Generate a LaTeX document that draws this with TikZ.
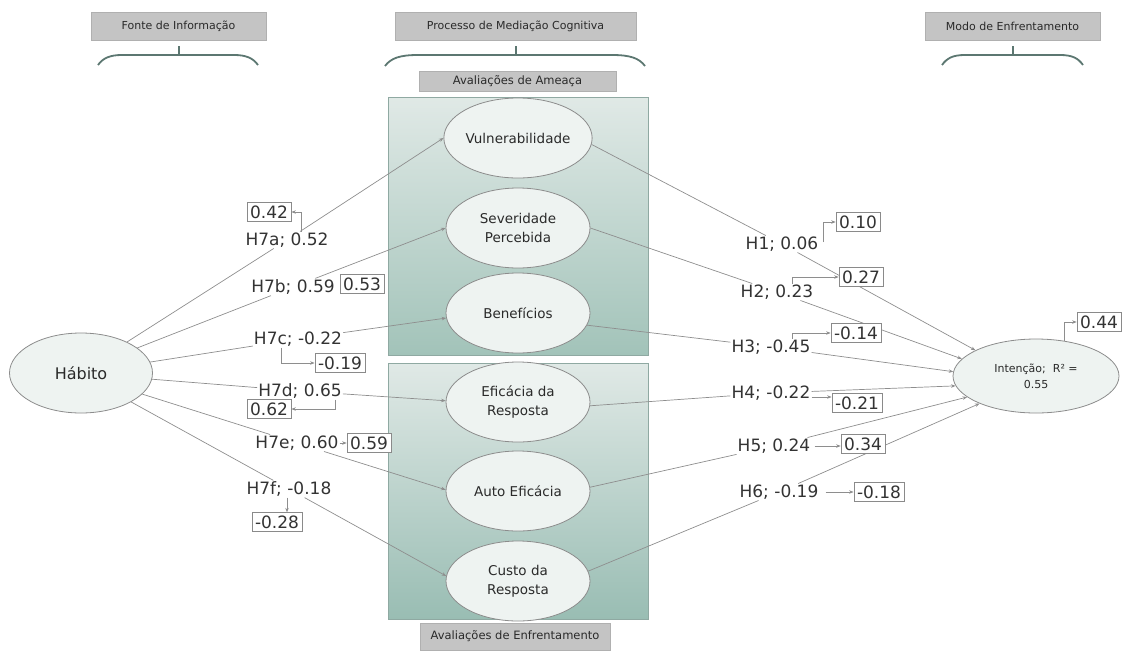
\documentclass[tikz,border=0pt]{standalone}
\usepackage{fontspec}
\setmainfont{DejaVu Sans}
\usetikzlibrary{arrows.meta,shapes.geometric}
\definecolor{lnc}{HTML}{8E8E8E}
\definecolor{labc}{HTML}{333333}
\definecolor{txtc}{HTML}{2A2A2A}
\definecolor{boxc}{HTML}{8A8A8A}
\definecolor{ellc}{HTML}{8C8C8C}
\definecolor{ellf}{HTML}{EEF3F1}
\definecolor{hdrd}{HTML}{B0B0B0}
\definecolor{hdrf}{HTML}{C4C4C4}
\definecolor{brcc}{HTML}{5C7771}
\definecolor{gbd}{HTML}{8FA9A2}
\definecolor{gtop}{HTML}{E0E9E6}
\definecolor{gbot}{HTML}{A2C3B9}
\definecolor{gbotb}{HTML}{99BDB3}
\begin{document}
\begin{tikzpicture}[x=1pt,y=-1pt,
 conn/.style={draw=lnc, line width=0.7pt},
 arr/.style={conn,-{Stealth[length=4.5pt,width=3.5pt]}},
 lab/.style={fill=white, inner sep=1pt, font=\fontsize{17}{20}\selectfont, text=labc},
 valbox/.style={draw=boxc, fill=white, line width=0.8pt, inner xsep=3pt, inner ysep=3pt, text height=12.5pt, text depth=0pt, font=\fontsize{17}{20}\selectfont, text=labc},
 cons/.style={ellipse, draw=ellc, fill=ellf, line width=0.8pt, minimum width=144pt, minimum height=80pt, inner sep=0pt, align=center, font=\fontsize{13.5}{19}\selectfont, text=txtc},
 hdr/.style={rectangle, draw=hdrd, fill=hdrf, inner sep=0pt, font=\fontsize{11}{13}\selectfont, text=txtc},
 brc/.style={draw=brcc, line width=1.8pt},
 gbox/.style={rectangle, draw=gbd, line width=0.8pt, top color=gtop, inner sep=0pt, minimum width=260pt}
]
\useasboundingbox (0,0) rectangle (1124,651);

% headers
\node[hdr, minimum width=175pt, minimum height=28pt] (hfonte) at (178.5,26) {Fonte de Informação};
\node[hdr, minimum width=241pt, minimum height=28pt] (hproc) at (515.5,26) {Processo de Mediação Cognitiva};
\node[hdr, minimum width=175pt, minimum height=28pt] (hmodo) at (1012.5,26) {Modo de Enfrentamento};

% braces
\draw[brc] (98,65) .. controls (103,58) and (110,55) .. (122,55) -- (234,55) .. controls (246,55) and (253,58) .. (258,65);
\draw[brc, line width=1.2pt] (179,46) -- (179,55);
\draw[brc] (385,66) .. controls (391,58) and (400,55) .. (418,55) -- (612,55) .. controls (630,55) and (639,58) .. (645,66);
\draw[brc, line width=1.2pt] (516,46) -- (516,55);
\draw[brc] (942,65) .. controls (947,58) and (953,55) .. (965,55) -- (1060,55) .. controls (1072,55) and (1078,58) .. (1083,65);
\draw[brc, line width=1.2pt] (1013,46) -- (1013,55);

% group boxes
\node[hdr, minimum width=197pt, minimum height=20pt, font=\fontsize{11.5}{13}\selectfont] (hame) at (517.5,81) {Avaliações de Ameaça};
\node[gbox, bottom color=gbot, minimum height=258pt] (gup) at (518,226) {};
\node[gbox, bottom color=gbotb, minimum height=256pt] (gdn) at (518,491) {};
\node[hdr, minimum width=190pt, minimum height=27pt, font=\fontsize{11.5}{13}\selectfont] (henf) at (515,636.5) {Avaliações de Enfrentamento};

% constructs
\node[cons] (vul) at (518,138) {Vulnerabilidade};
\node[cons] (sev) at (518,228) {Severidade\\Percebida};
\node[cons] (ben) at (518,313) {Benefícios};
\node[cons] (efi) at (518,402) {Eficácia da\\Resposta};
\node[cons] (aut) at (518,491) {Auto Eficácia};
\node[cons] (cus) at (518,581) {Custo da\\Resposta};
\node[cons, minimum width=143pt, font=\fontsize{16}{19}\selectfont] (hab) at (81,373) {Hábito};
\node[cons, minimum width=166pt, minimum height=74pt, font=\fontsize{11}{16}\selectfont] (int) at (1036,376) {Intenção;\ \ R² =\\0.55};

% path labels
\node[lab] (l7a) at (287,240) {H7a; 0.52};
\node[lab] (l7b) at (293,287) {H7b; 0.59};
\node[lab] (l7c) at (298,339) {H7c; -0.22};
\node[lab] (l7d) at (300,391) {H7d; 0.65};
\node[lab] (l7e) at (297,443) {H7e; 0.60};
\node[lab] (l7f) at (289,489) {H7f; -0.18};
\node[lab] (l1) at (782,244) {H1; 0.06};
\node[lab] (l2) at (777,292) {H2; 0.23};
\node[lab] (l3) at (771,347) {H3; -0.45};
\node[lab] (l4) at (771,393) {H4; -0.22};
\node[lab] (l5) at (774,446) {H5; 0.24};
\node[lab] (l6) at (779,492) {H6; -0.19};

% main paths
\draw[arr] (hab.34) -- (l7a) -- (vul.180);
\draw[arr] (hab.24) -- (l7b) -- (sev.180);
\draw[arr] (hab.9) -- (l7c) -- (ben.184);
\draw[arr] (hab.-5) -- (l7d) -- (efi.179);
\draw[arr] (hab.-19) -- (l7e) -- (aut.179);
\draw[arr] (hab.-30) -- (l7f) -- (cus.176);
\draw[arr] (vul.-5) -- (l1) -- (int.157);
\draw[arr] (sev.0) -- (l2) -- (int.167);
\draw[arr] (ben.-10) -- (l3) -- (int.177);
\draw[arr] (efi.-3) -- (l4) -- (int.187);
\draw[arr] (aut.3) -- (l5) -- (int.197);
\draw[arr] (cus.8) -- (l6) -- (int.206);

% value boxes
\node[valbox] (b7a) at (269,212) {0.42};
\node[valbox] (b7b) at (362,284) {0.53};
\node[valbox] (b7c) at (340,363) {-0.19};
\node[valbox] (b7d) at (269,409) {0.62};
\node[valbox] (b7e) at (369,443) {0.59};
\node[valbox] (b7f) at (277,522) {-0.28};
\node[valbox] (b1) at (858,222) {0.10};
\node[valbox] (b2) at (861,277) {0.27};
\node[valbox] (b3) at (856,333) {-0.14};
\node[valbox] (b4) at (857,403) {-0.21};
\node[valbox] (b5) at (863,444) {0.34};
\node[valbox] (b6) at (879,492) {-0.18};
\node[valbox] (b0) at (1099,322) {0.44};

% small arrows to value boxes
\draw[arr] ([xshift=14pt]l7a.north) |- (b7a.east);
\draw[arr] ([xshift=-17pt]l7c.south) |- (b7c.west);
\draw[arr] ([xshift=35pt]l7d.south) |- (b7d.east);
\draw[arr] (l7e.east) -- (b7e.west);
\draw[arr] ([xshift=-2pt]l7f.south) -- ([xshift=-2pt]l7f.south |- b7f.north);
\draw[arr] ([xshift=4pt,yshift=2pt]l1.east) |- (b1.west);
\draw[arr] ([xshift=15pt]l2.north) |- (b2.west);
\draw[arr] ([xshift=21pt]l3.north) |- (b3.west);
\draw[arr] ([yshift=-4pt]l4.east) -- ([yshift=-4pt]l4.east -| b4.west);
\draw[arr] ([xshift=3pt]l5.east) -- (l5.east -| b5.west);
\draw[arr] ([xshift=6pt]l6.east) -- (l6.east -| b6.west);
\draw[arr] (int.51) |- (b0.west);
\end{tikzpicture}
\end{document}
